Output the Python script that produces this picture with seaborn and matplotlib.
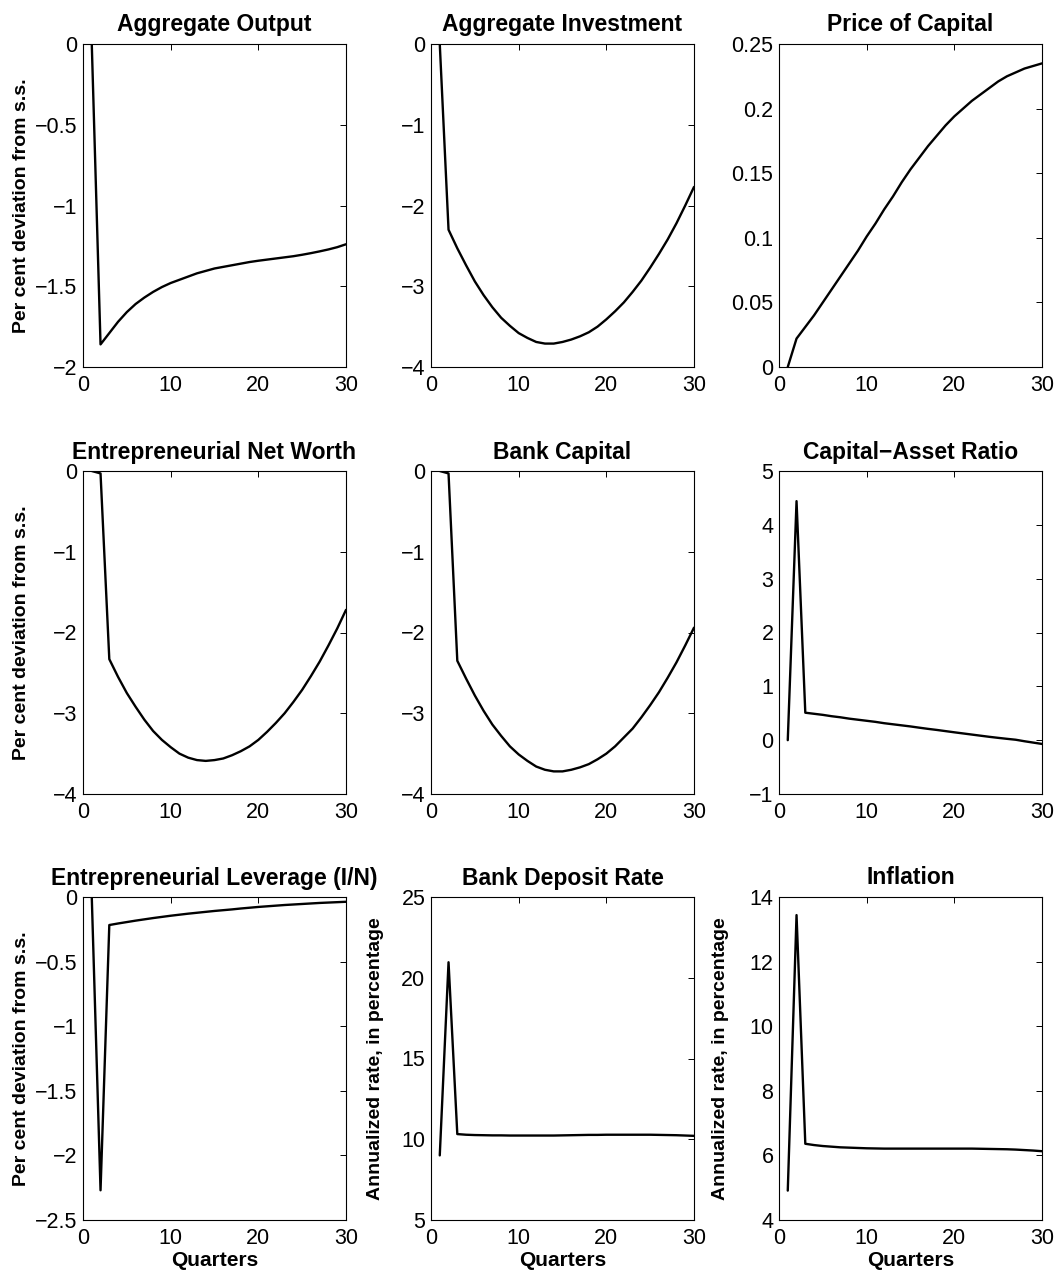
import matplotlib
matplotlib.use("Agg")
import matplotlib.pyplot as plt
from matplotlib.ticker import FixedLocator, FuncFormatter
import numpy as np
import pandas as pd
import seaborn as sns

# Impulse responses over 30 quarters
quarters = list(range(1, 31))

aggregate_output = [0.0, -1.86, -1.79, -1.72, -1.66, -1.61, -1.57, -1.535, -1.505, -1.48,
                    -1.46, -1.44, -1.42, -1.405, -1.39, -1.38, -1.37, -1.36, -1.35, -1.342,
                    -1.335, -1.328, -1.321, -1.314, -1.305, -1.295, -1.284, -1.272, -1.258, -1.24]

aggregate_investment = [0.0, -2.30, -2.53, -2.74, -2.94, -3.11, -3.26, -3.39, -3.49, -3.58,
                        -3.64, -3.69, -3.71, -3.71, -3.69, -3.66, -3.62, -3.57, -3.50, -3.41,
                        -3.31, -3.20, -3.07, -2.93, -2.77, -2.60, -2.42, -2.22, -2.00, -1.77]

price_of_capital = [0.000, 0.022, 0.031, 0.040, 0.050, 0.060, 0.070, 0.080, 0.090, 0.101,
                    0.111, 0.122, 0.132, 0.143, 0.153, 0.162, 0.171, 0.179, 0.187, 0.194,
                    0.200, 0.206, 0.211, 0.216, 0.221, 0.225, 0.228, 0.231, 0.233, 0.235]

net_worth = [0.0, -0.03, -2.33, -2.55, -2.75, -2.92, -3.08, -3.22, -3.33, -3.42,
             -3.50, -3.55, -3.58, -3.59, -3.58, -3.56, -3.52, -3.47, -3.41, -3.33,
             -3.23, -3.12, -3.00, -2.86, -2.71, -2.54, -2.36, -2.16, -1.95, -1.72]

bank_capital = [0.0, -0.03, -2.35, -2.57, -2.78, -2.97, -3.14, -3.28, -3.41, -3.51,
                -3.59, -3.66, -3.70, -3.72, -3.72, -3.70, -3.67, -3.63, -3.57, -3.50,
                -3.41, -3.30, -3.19, -3.05, -2.90, -2.74, -2.56, -2.37, -2.16, -1.94]

capital_asset_ratio = [0.0, 4.44, 0.51, 0.49, 0.47, 0.445, 0.425, 0.40, 0.38, 0.36,
                       0.34, 0.315, 0.295, 0.275, 0.255, 0.232, 0.21, 0.19, 0.168, 0.146,
                       0.125, 0.104, 0.083, 0.062, 0.043, 0.025, 0.008, -0.02, -0.045, -0.07]

leverage = [0.0, -2.27, -0.217, -0.205, -0.194, -0.183, -0.173, -0.163, -0.154, -0.145,
            -0.137, -0.129, -0.122, -0.115, -0.108, -0.102, -0.096, -0.089, -0.083, -0.077,
            -0.072, -0.067, -0.062, -0.058, -0.054, -0.050, -0.046, -0.043, -0.040, -0.037]

deposit_rate = [9.0, 20.96, 10.32, 10.28, 10.26, 10.25, 10.24, 10.24, 10.23, 10.23,
                10.23, 10.23, 10.23, 10.23, 10.24, 10.25, 10.26, 10.27, 10.27, 10.28,
                10.28, 10.28, 10.28, 10.28, 10.28, 10.27, 10.26, 10.25, 10.23, 10.21]

inflation = [4.91, 13.44, 6.36, 6.32, 6.29, 6.27, 6.25, 6.24, 6.23, 6.22,
             6.215, 6.21, 6.21, 6.21, 6.21, 6.21, 6.21, 6.21, 6.21, 6.21,
             6.21, 6.21, 6.205, 6.20, 6.195, 6.19, 6.18, 6.165, 6.15, 6.13]

titles = ["Aggregate Output", "Aggregate Investment", "Price of Capital",
          "Entrepreneurial Net Worth", "Bank Capital", "Capital\u2212Asset Ratio",
          "Entrepreneurial Leverage (I/N)", "Bank Deposit Rate", "Inflation"]
series = [aggregate_output, aggregate_investment, price_of_capital,
          net_worth, bank_capital, capital_asset_ratio,
          leverage, deposit_rate, inflation]
y_ticks = [[-2, -1.5, -1, -0.5, 0],
           [-4, -3, -2, -1, 0],
           [0, 0.05, 0.1, 0.15, 0.2, 0.25],
           [-4, -3, -2, -1, 0],
           [-4, -3, -2, -1, 0],
           [-1, 0, 1, 2, 3, 4, 5],
           [-2.5, -2, -1.5, -1, -0.5, 0],
           [5, 10, 15, 20, 25],
           [4, 6, 8, 10, 12, 14]]
x_ticks = [0, 10, 20, 30]

label_dev = "Per cent deviation from s.s."
label_rate = "Annualized rate, in percentage"
y_labels = [label_dev, None, None,
            label_dev, None, None,
            label_dev, label_rate, label_rate]

sns.set_theme(style="white")
plt.rcParams["font.family"] = ["Liberation Sans", "DejaVu Sans"]
plt.rcParams["axes.unicode_minus"] = True
plt.rcParams["text.color"] = "black"
plt.rcParams["axes.labelcolor"] = "black"
plt.rcParams["xtick.color"] = "black"
plt.rcParams["ytick.color"] = "black"

W, H = 1058, 1278
fig = plt.figure(figsize=(W / 100, H / 100), dpi=100)
fig.patch.set_facecolor("white")

col_left = [83, 431, 779]
row_top = [44, 471, 897]
ax_w, ax_h = 263, 323
label_x = [-0.2, -0.18, -0.19]

fmt = FuncFormatter(lambda v, p: f"{v:g}".replace("-", "\u2212"))

for i in range(9):
    r, c = divmod(i, 3)
    rect = [col_left[c] / W, 1 - (row_top[r] + ax_h) / H, ax_w / W, ax_h / H]
    ax = fig.add_axes(rect)
    df = pd.DataFrame({"quarter": quarters, "value": series[i]})
    sns.lineplot(data=df, x="quarter", y="value", ax=ax, color="black",
                 linewidth=1.7, estimator=None, sort=False)
    yt = y_ticks[i]
    ax.set_xlim(0, 30)
    ax.set_ylim(yt[0], yt[-1])
    ax.xaxis.set_major_locator(FixedLocator(x_ticks))
    ax.yaxis.set_major_locator(FixedLocator(yt))
    ax.xaxis.set_major_formatter(fmt)
    ax.yaxis.set_major_formatter(fmt)
    ax.tick_params(direction="in", top=True, right=True, length=4, width=0.7,
                   labelsize=15.5, colors="black", pad=4)
    ax.tick_params(axis="x", pad=6)
    for s in ax.spines.values():
        s.set_visible(True)
        s.set_color("black")
        s.set_linewidth(0.8)
    ax.set_title(titles[i], fontsize=16.5, fontweight="bold", pad=9, color="black")
    if y_labels[i]:
        ax.set_ylabel(y_labels[i], fontsize=14, fontweight="bold", color="black")
        ax.yaxis.set_label_coords(label_x[c], 0.5)
    else:
        ax.set_ylabel("")
    if r == 2:
        ax.set_xlabel("Quarters", fontsize=15, fontweight="bold", labelpad=1,
                      color="black")
    else:
        ax.set_xlabel("")

fig.savefig("out.png", dpi=100, facecolor="white")
